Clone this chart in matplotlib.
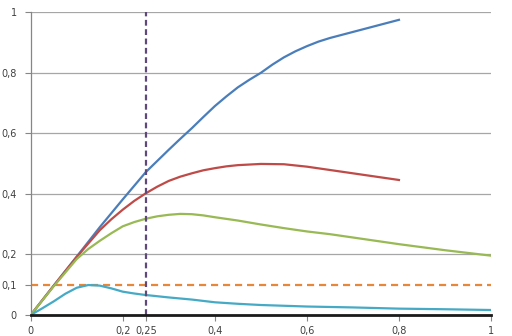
import matplotlib
matplotlib.use('Agg')
import matplotlib.pyplot as plt
import matplotlib.ticker as mticker

# =============================================================================
# DATA
# =============================================================================
x_blue = [0, 0.05, 0.1, 0.15, 0.2, 0.25, 0.3, 0.325, 0.35, 0.375, 0.4, 0.425, 0.45, 0.475, 0.5,
          0.525, 0.55, 0.575, 0.6, 0.625, 0.65, 0.675, 0.7, 0.75, 0.8]
y_blue = [0, 0.097, 0.193, 0.29, 0.382, 0.472, 0.546, 0.582, 0.617, 0.654, 0.69, 0.722, 0.752, 0.777,
          0.80, 0.827, 0.851, 0.871, 0.888, 0.903, 0.915, 0.925, 0.935, 0.955, 0.975]

x_red = [0, 0.05, 0.1, 0.15, 0.175, 0.2, 0.225, 0.25, 0.275, 0.3, 0.325, 0.35, 0.375, 0.4, 0.425,
         0.45, 0.5, 0.55, 0.6, 0.65, 0.7, 0.75, 0.8]
y_red = [0, 0.097, 0.192, 0.28, 0.316, 0.348, 0.377, 0.402, 0.424, 0.443, 0.457, 0.468, 0.478, 0.485,
         0.491, 0.495, 0.499, 0.498, 0.49, 0.479, 0.468, 0.457, 0.446]

x_green = [0, 0.05, 0.1, 0.125, 0.15, 0.175, 0.2, 0.225, 0.25, 0.275, 0.3, 0.325, 0.35, 0.375, 0.4,
           0.45, 0.5, 0.55, 0.6, 0.65, 0.7, 0.75, 0.8, 0.85, 0.9, 0.95, 1.0]
y_green = [0, 0.095, 0.185, 0.218, 0.245, 0.27, 0.293, 0.307, 0.318, 0.326, 0.331, 0.334, 0.333, 0.329,
           0.323, 0.312, 0.299, 0.287, 0.276, 0.267, 0.256, 0.245, 0.234, 0.224, 0.214, 0.205, 0.196]

x_teal = [0, 0.025, 0.05, 0.075, 0.1, 0.125, 0.15, 0.175, 0.2, 0.225, 0.25, 0.275, 0.3, 0.35, 0.4,
          0.45, 0.5, 0.6, 0.7, 0.8, 0.9, 1.0]
y_teal = [0, 0.022, 0.045, 0.07, 0.09, 0.099, 0.097, 0.088, 0.077, 0.071, 0.066, 0.062, 0.058, 0.051,
          0.042, 0.037, 0.033, 0.028, 0.025, 0.021, 0.019, 0.0165]

threshold_y = 0.1
marker_x = 0.25

x_ticks = [0, 0.2, 0.25, 0.4, 0.6, 0.8, 1]
y_ticks = [0, 0.1, 0.2, 0.4, 0.6, 0.8, 1]
grid_y = [0.2, 0.4, 0.6, 0.8, 1]


def comma_fmt(v, pos=None):
    s = f'{v:g}'
    return s.replace('.', ',')


fig = plt.figure(figsize=(5.12, 3.36), dpi=100)
ax = fig.add_axes([0.06, 0.0625, 0.899, 0.901])

for gy in grid_y:
    ax.axhline(gy, color='#a6a6a6', linewidth=0.9, zorder=1)

ax.plot([0, 1], [threshold_y, threshold_y], color='#e8863a', linewidth=1.6,
        dashes=(3.2, 2.2), zorder=2)
ax.plot([marker_x, marker_x], [0, 1], color='#5f497a', linewidth=1.6,
        dashes=(2.6, 1.6), zorder=4)

for xs, ys, c in [(x_blue, y_blue, '#4a7ebb'), (x_red, y_red, '#be4b48'),
                  (x_green, y_green, '#98b954'), (x_teal, y_teal, '#46aac5')]:
    ax.plot(xs, ys, color=c, linewidth=1.6, solid_joinstyle='round', zorder=3)

ax.set_xlim(0, 1)
ax.set_ylim(0, 1)
ax.set_xticks(x_ticks)
ax.set_yticks(y_ticks)
ax.xaxis.set_major_formatter(mticker.FuncFormatter(comma_fmt))
ax.yaxis.set_major_formatter(mticker.FuncFormatter(comma_fmt))

for s in ['top', 'right']:
    ax.spines[s].set_visible(False)
ax.spines['left'].set_color('#868686')
ax.spines['left'].set_linewidth(0.9)
ax.spines['bottom'].set_color('#1a1a1a')
ax.spines['bottom'].set_linewidth(2)
ax.spines['bottom'].set_zorder(5)

ax.tick_params(axis='y', length=4, width=0.8, color='#868686', labelsize=7,
               labelcolor='#404040', pad=6)
ax.tick_params(axis='x', length=4, width=0.8, color='#868686', labelsize=7,
               labelcolor='#404040', pad=4)

plt.savefig('out.png', dpi=100)
plt.close()
